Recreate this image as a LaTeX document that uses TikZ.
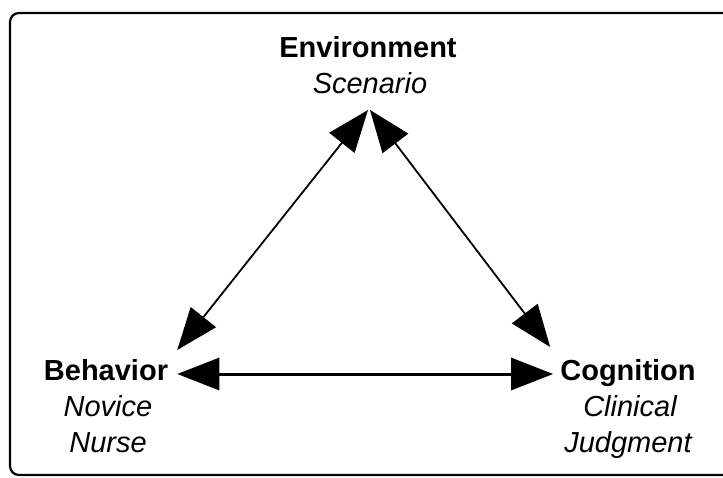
\documentclass[tikz,border=0pt]{standalone}
\usepackage{fontspec}
\setmainfont{Liberation Sans}
\usetikzlibrary{arrows.meta}

\begin{document}
\begin{tikzpicture}[x=1pt,y=1pt,
	maintxt/.style={inner sep=0pt, anchor=base, font=\fontsize{29}{36}\selectfont\bfseries},
	subtxt/.style={inner sep=0pt, anchor=base, font=\fontsize{29}{36}\selectfont\itshape},
	link/.style={{Triangle[length=42pt,width=32pt]}-{Triangle[length=42pt,width=32pt]}, line width=1.8pt}]
	\useasboundingbox (0,0) rectangle (723,477);
	\clip (0,0) rectangle (723,477);
	\draw [line width=2.2pt, rounded corners=9pt] (10,464) rectangle (740,2);
	\node [maintxt] (env) at (368,419) {Environment};
	\node [subtxt] (envsub) at (370,383) {Scenario};
	\node [maintxt] (beh) at (106,97) {Behavior};
	\node [subtxt] (behsuba) at (108,61) {Novice};
	\node [subtxt] (behsubb) at (108,25) {Nurse};
	\node [maintxt] (cog) at (628,97) {Cognition};
	\node [subtxt] (cogsuba) at (630,61) {Clinical};
	\node [subtxt] (cogsubb) at (628,25) {Judgment};
	\draw [link, line width=3pt] ([shift={(9pt,6pt)}]beh.base east) -- ([shift={(-7pt,6pt)}]cog.base west);
	\draw [link] ([shift={(9pt,30pt)}]beh.base east) -- ([shift={(-2pt,-16pt)}]envsub.base);
	\draw [link] ([shift={(0pt,-16pt)}]envsub.base) -- ([shift={(-10pt,33pt)}]cog.base west);
\end{tikzpicture}
\end{document}
